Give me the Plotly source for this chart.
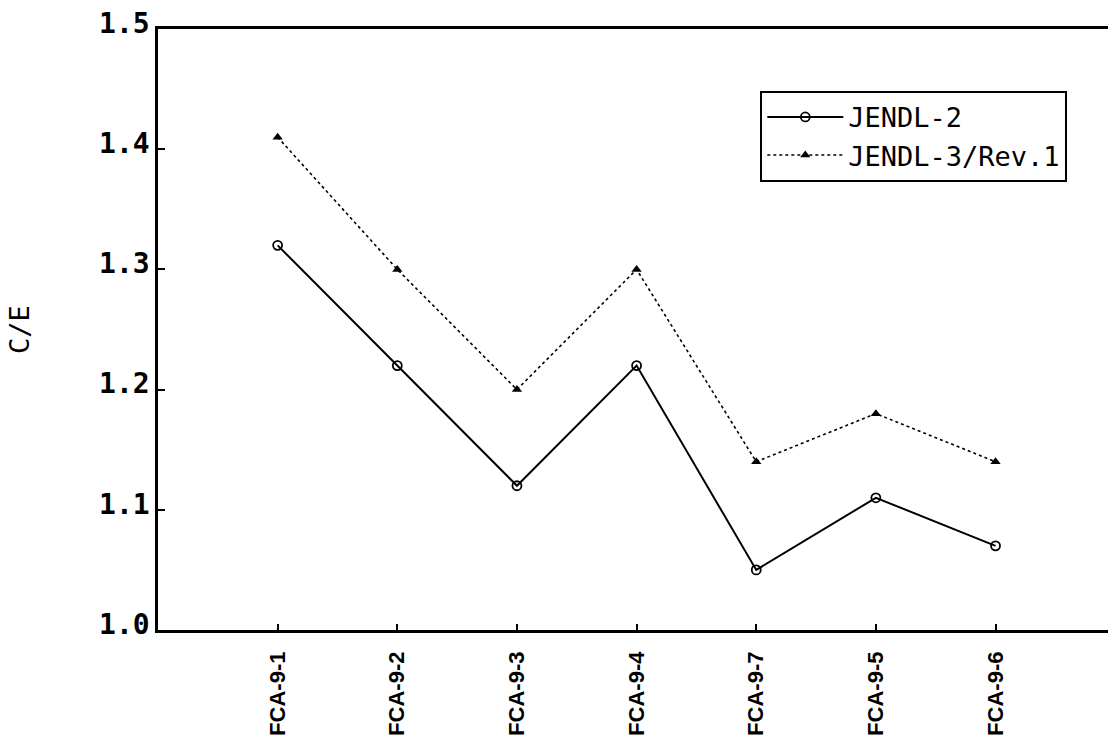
import plotly.graph_objects as go

categories = ["FCA-9-1", "FCA-9-2", "FCA-9-3", "FCA-9-4", "FCA-9-7", "FCA-9-5", "FCA-9-6"]
jendl2 = [1.32, 1.22, 1.12, 1.22, 1.05, 1.11, 1.07]
jendl3 = [1.41, 1.30, 1.20, 1.30, 1.14, 1.18, 1.14]
y_ticks = [1.0, 1.1, 1.2, 1.3, 1.4, 1.5]
y_ticktext = ["1.0", "1.1", "1.2", "1.3", "1.4", "1.5"]

xidx = list(range(len(categories)))

fig = go.Figure()
fig.add_trace(go.Scatter(
    x=xidx, y=jendl2, name="JENDL-2", mode="lines+markers",
    line=dict(color="black", width=2),
    marker=dict(symbol="circle-open", size=9, color="black", line=dict(width=1.8)),
))
fig.add_trace(go.Scatter(
    x=xidx, y=jendl3, name="JENDL-3/Rev.1", mode="lines+markers",
    line=dict(color="black", width=1.6, dash="dot"),
    marker=dict(symbol="triangle-up", size=9, color="black"),
))

fig.update_layout(
    width=1108, height=746,
    margin=dict(l=158, r=0, t=29, b=116),
    paper_bgcolor="white", plot_bgcolor="white",
    showlegend=True,
    legend=dict(
        x=0.634, y=0.897, xanchor="left", yanchor="top",
        bordercolor="black", borderwidth=2, bgcolor="white",
        font=dict(family="DejaVu Sans Mono", size=27, color="black"),
        tracegroupgap=0, itemwidth=76, entrywidth=337, entrywidthmode="pixels",
    ),
    xaxis=dict(
        range=[-1, 6.94], tickmode="array", tickvals=xidx, ticktext=categories,
        tickangle=-90, ticks="inside", ticklen=6, tickwidth=1.5, tickcolor="black",
        showline=True, linecolor="black", linewidth=2.5, mirror=True,
        showgrid=False, zeroline=False,
        tickfont=dict(family="Liberation Sans", size=22, color="black", weight="bold"),
        ticklabelstandoff=10,
    ),
    yaxis=dict(
        range=[1.0, 1.5], tickmode="array", tickvals=y_ticks, ticktext=y_ticktext,
        ticks="inside", ticklen=7, tickwidth=1.5, tickcolor="black",
        showline=True, linecolor="black", linewidth=2.5,
        showgrid=False, zeroline=False,
        tickfont=dict(family="DejaVu Sans Mono", size=28, color="black", weight="bold"),
        ticklabelshift=-6, ticklabelstandoff=0,
        title=dict(text="C/E", font=dict(family="DejaVu Sans Mono", size=27, color="black"), standoff=62),
    ),
)

fig.write_html("out.html")
